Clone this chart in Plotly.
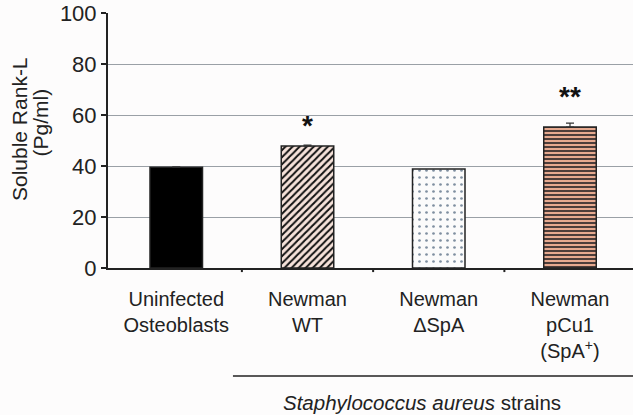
import plotly.graph_objects as go

categories = ["Uninfected<br>Osteoblasts", "Newman<br>WT", "Newman<br>ΔSpA", "Newman<br>pCu1<br>(SpA<sup>+</sup>)"]
values = [39.5, 47.8, 38.8, 55.3]
errors = [0.2, 0.4, 0.0, 1.5]
y_ticks = [0, 20, 40, 60, 80, 100]
stars = ["", "*", "", "**"]
y_title_lines = ["Soluble Rank-L", "(Pg/ml)"]

pattern_shapes = ["", "/", ".", "-"]
pattern_fg = ["#000000", "#111111", "#7f8fa0", "#3a3030"]
pattern_bg = ["#000000", "#f6e2da", "#fbfbfb", "#e6a98f"]
pattern_size = [8, 5, 7, 4]
pattern_sol = [0.5, 0.4, 0.12, 0.45]

fig = go.Figure()
for i, c in enumerate(categories):
    fig.add_trace(go.Bar(
        x=[i], y=[values[i]],
        width=0.4,
        marker=dict(
            color=pattern_bg[i],
            line=dict(color="#222222", width=1.5),
            pattern=dict(shape=pattern_shapes[i], fgcolor=pattern_fg[i], bgcolor=pattern_bg[i],
                         size=pattern_size[i], solidity=pattern_sol[i], fillmode="replace"),
        ),
        error_y=dict(type="data", array=[errors[i]], visible=errors[i] > 0, color="#333333",
                     thickness=1.2, width=4, symmetric=False, arrayminus=[0]),
        showlegend=False,
        hoverinfo="skip",
    ))

star_offsets = [0, 7.6, 0, 10.3]
for i, s in enumerate(stars):
    if s:
        fig.add_annotation(x=i, y=values[i] + errors[i] + star_offsets[i], text="<b>%s</b>" % s,
                           showarrow=False, font=dict(size=28, color="#111111", family="Liberation Sans, Arial"),
                           yanchor="middle", xanchor="center")

title_pos = [(-0.1695, 0.545), (-0.1285, 0.569)]
for t, (tx, ty) in zip(y_title_lines, title_pos):
    fig.add_annotation(xref="paper", yref="paper", x=tx, y=ty, text=t,
                       textangle=-90, showarrow=False, xanchor="center", yanchor="middle",
                       font=dict(size=21, color="#222222"))

fig.add_shape(type="line", xref="paper", yref="paper", x0=0.238, x1=1.0, y0=-0.4235, y1=-0.4235,
              line=dict(color="#222222", width=1.5))
fig.add_annotation(xref="paper", yref="paper", x=0.598, y=-0.529, xanchor="center", yanchor="middle",
                   text="<i>Staphylococcus aureus</i> strains", showarrow=False,
                   font=dict(size=20.5, color="#222222"))

fig.update_layout(
    width=633, height=415,
    margin=dict(l=108, r=0, t=13, b=147, autoexpand=False),
    paper_bgcolor="#fdfcfc", plot_bgcolor="#fdfcfc",
    font=dict(family="Liberation Sans, Arial", color="#222222"),
    bargap=0.6,
)
fig.update_xaxes(
    range=[-0.52, 3.48], tickmode="array", tickvals=list(range(len(categories))), ticktext=categories,
    showline=True, linecolor="#222222", linewidth=2, ticks="", showgrid=False,
    tickfont=dict(size=20, color="#222222"), zeroline=False, automargin=False,
    ticklabelstandoff=12, ticklabeloverflow="allow",
)
for b in [0.5, 1.5, 2.5]:
    fig.add_shape(type="line", xref="x", yref="paper", x0=b, x1=b, y0=0, y1=-0.016,
                  line=dict(color="#222222", width=2))
fig.update_yaxes(
    range=[0, 100], tickvals=y_ticks, showline=True, linecolor="#222222", linewidth=2,
    ticks="outside", ticklen=5, tickwidth=2, tickcolor="#222222",
    gridcolor="#9aa0a6", gridwidth=1, tickfont=dict(size=22, color="#222222"), zeroline=False,
    automargin=False, ticklabeloverflow="allow",
)

fig.write_html("out.html", config={"displayModeBar": False},
               post_script="document.body.style.margin='0';document.body.style.overflow='hidden';")
